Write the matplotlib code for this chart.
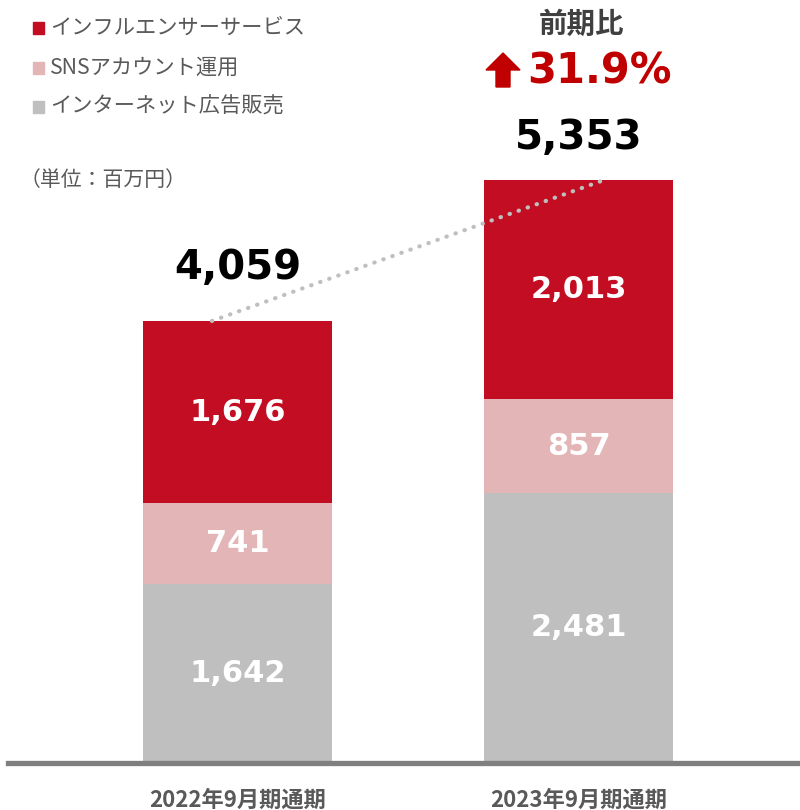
import matplotlib
matplotlib.use("Agg")
from matplotlib import pyplot as plt
import matplotlib.patches as mpatches

plt.rcParams['font.family'] = ['Noto Sans CJK JP', 'DejaVu Sans']

periods = ["2022年9月期通期", "2023年9月期通期"]
series_names = ["インターネット広告販売", "SNSアカウント運用", "インフルエンサーサービス"]
internet_ads = [1642, 2481]
sns_ops = [741, 857]
influencer = [1676, 2013]
totals = [4059, 5353]
growth_label = "31.9%"

colors = ["#BFBFBF", "#E3B5B6", "#C30D23"]
W, H = 800, 810

fig = plt.figure(figsize=(8, 8.1), dpi=100)
ax = fig.add_axes([0, 47 / H, 1, 763 / H])
ax.set_xlim(-0.6965, 1.6496)
ax.set_ylim(0, 7006)
ax.axis('off')

x = [0, 1]
bottom = [0, 0]
for vals, c in zip([internet_ads, sns_ops, influencer], colors):
    ax.bar(x, vals, width=0.554, bottom=bottom, color=c, zorder=2)
    for xi, b, v in zip(x, bottom, vals):
        ax.text(xi, b + v / 2, f"{v:,}", ha='center', va='center', color='white',
                fontsize=22, fontweight='bold', family='DejaVu Sans', zorder=3)
    bottom = [b + v for b, v in zip(bottom, vals)]

# baseline
ax.axhline(0, xmin=0.01, xmax=1, color="#7F7F7F", linewidth=3.8, zorder=4, clip_on=False)

# totals
offsets = [53, 42]
for xi, t, off in zip(x, totals, offsets):
    ax.annotate(f"{t:,}", (xi, t), xytext=(0, off * 0.72), textcoords='offset points',
                ha='center', va='center', fontsize=29, fontweight='bold',
                family='DejaVu Sans', color='black')

# dotted trend line
ax.plot([x[0] - 0.075, x[1] + 0.075], [totals[0], totals[1]], linestyle=(0, (0.1, 2.2)),
        dash_capstyle='round', color="#BFBFBF", linewidth=3, zorder=5)

# category labels
for xi, p in zip(x, periods):
    ax.text(xi, -398, p, ha='center', va='baseline', fontsize=16, fontweight='bold',
            color="#595959", clip_on=False)

# legend
legend_y = [28, 68, 107]
for yy, name, c in zip(legend_y, series_names[::-1], colors[::-1]):
    fig.patches.append(mpatches.Rectangle((33 / W, 1 - (yy + 5.5) / H), 11 / W, 11 / H,
                                          transform=fig.transFigure, color=c))
    fig.text(50 / W, 1 - yy / H, name, ha='left', va='center', fontsize=15.3, color="#595959")

fig.text(20 / W, 1 - 180 / H, "（単位：百万円）", ha='left', va='center', fontsize=15,
         color="#595959")

# growth
fig.text(581 / W, 1 - 25 / H, "前期比", ha='center', va='center', fontsize=20.5,
         fontweight='bold', color="#404040")
fig.text(527 / W, 1 - 72 / H, growth_label, ha='left', va='center', fontsize=30,
         fontweight='bold', family='DejaVu Sans', color="#C00000")
arrow = mpatches.FancyArrow(503 / W, 1 - 87 / H, 0, 34 / H, width=14 / W, head_width=34 / W,
                            head_length=17 / H, length_includes_head=True,
                            transform=fig.transFigure, color="#C00000")
fig.patches.append(arrow)

plt.savefig('out.png', dpi=100)
plt.close()
